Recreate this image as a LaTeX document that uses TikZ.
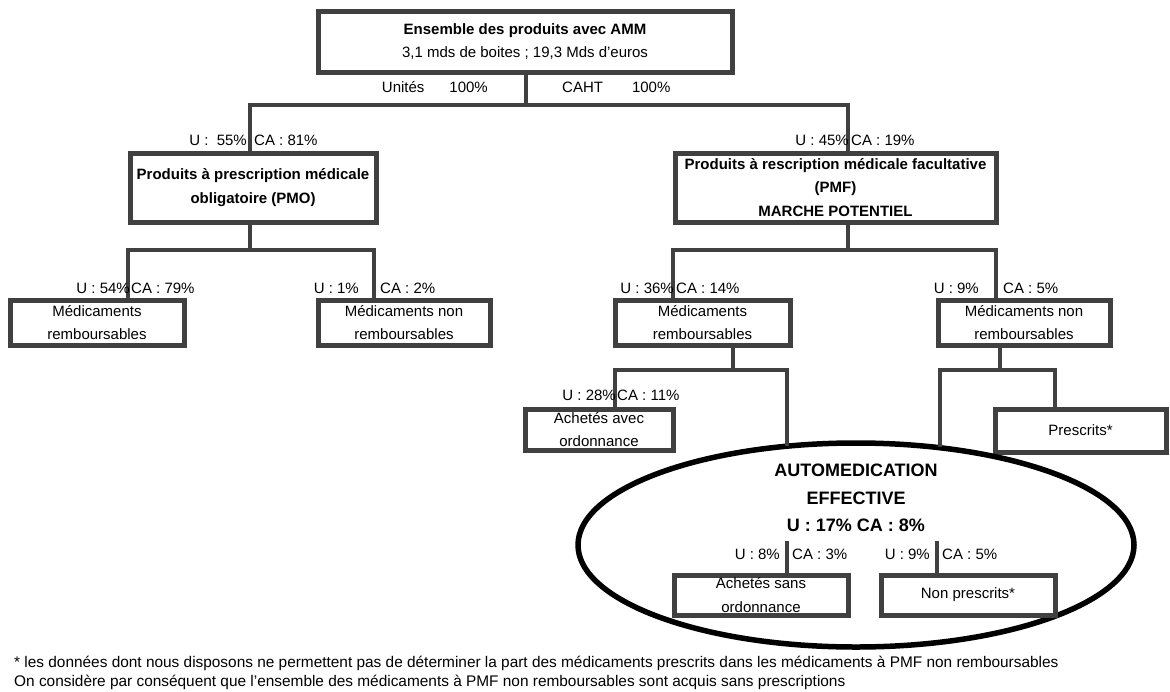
\documentclass[tikz,border=0pt]{standalone}
\usepackage{fontspec}
\setmainfont{Liberation Sans}
\usetikzlibrary{calc,shapes.geometric}
\definecolor{boxgrey}{HTML}{404040}

\begin{document}
\begin{tikzpicture}[x=1pt,y=-1pt,
  font=\fontsize{15}{23.5}\selectfont,
  box/.style={draw=boxgrey,line width=5pt,align=center,inner sep=0pt},
  link/.style={draw=boxgrey,line width=3.5pt},
  pct/.style={inner sep=0pt}]
\useasboundingbox (0,0) rectangle (1170,691);

% Draw the boxes
\node[box,minimum width=414pt,minimum height=61pt] (amm) at (525,41.5)
  {\textbf{Ensemble des produits avec AMM}\\3,1 mds de boites ; 19,3 Mds d'euros};
\node[box,minimum width=246pt,minimum height=69pt] (pmo) at (253,187.5)
  {\textbf{Produits à prescription médicale}\\\textbf{obligatoire (PMO)}};
\node[box,minimum width=321pt,minimum height=69pt] (pmf) at (835.5,187.5)
  {\textbf{Produits à rescription médicale facultative}\\\textbf{(PMF)}\\\textbf{MARCHE POTENTIEL}};
\node[box,minimum width=174pt,minimum height=45pt] (rembo) at (97,322.5) {Médicaments\\remboursables};
\node[box,minimum width=172pt,minimum height=45pt] (nrembo) at (404,322.5) {Médicaments non\\remboursables};
\node[box,minimum width=175pt,minimum height=45pt] (rembf) at (702.5,322.5) {Médicaments\\remboursables};
\node[box,minimum width=172pt,minimum height=45pt] (nrembf) at (1024,322.5) {Médicaments non\\remboursables};
\node[box,minimum width=148pt,minimum height=41pt] (avec) at (599,429.5) {Achetés avec\\ordonnance};
\node[box,minimum width=171pt,minimum height=43pt] (presc) at (1080.5,430.5) {Prescrits*};

% Draw the ellipse
\node[draw,ellipse,line width=5.5pt,minimum width=556pt,minimum height=204pt] (auto) at (856,545) {};
\node[align=center,font=\bfseries\fontsize{18}{27.5}\selectfont] (autotxt) at (856,498)
  {AUTOMEDICATION\\EFFECTIVE\\U : 17\% CA : 8\%};
\node[box,minimum width=174pt,minimum height=40pt] (sans) at (761,595) {Achetés sans\\ordonnance};
\node[box,minimum width=174pt,minimum height=40pt] (npresc) at (968,595) {Non prescrits*};

% Draw the connectors
\coordinate (b0) at (526,105);
\coordinate (b0l) at (250,105);
\coordinate (b0r) at (848,105);
\draw[link] (amm.south -| b0) -- (b0);
\draw[link] (pmo.north -| b0l) -- (b0l) -- (b0r) -- (pmf.north -| b0r);

\coordinate (b1l) at (128,250);
\coordinate (b1r) at (374,250);
\draw[link] (pmo.south -| 250,0) coordinate (b1) -- (b1 |- b1l);
\draw[link] (rembo.north -| b1l) -- (b1l) -- (b1r) -- (nrembo.north -| b1r);

\coordinate (b2l) at (673,250);
\coordinate (b2r) at (996,250);
\draw[link] (pmf.south -| b0r) -- (b0r |- b2l);
\draw[link] (rembf.north -| b2l) -- (b2l) -- (b2r) -- (nrembf.north -| b2r);

\coordinate (b3) at (733,370);
\coordinate (b3l) at (615,370);
\coordinate (b3r) at (787,370);
\draw[link] (rembf.south -| b3) -- (b3);
\draw[link] (avec.north -| b3l) -- (b3l) -- (b3r) -- ($(b3r |- auto.north)+(0,6)$);

\coordinate (b4) at (1000,370);
\coordinate (b4l) at (940,370);
\coordinate (b4r) at (1055,370);
\draw[link] (nrembf.south -| b4) -- (b4);
\draw[link] ($(b4l |- auto.north)+(0,7)$) -- (b4l) -- (b4r) -- (presc.north -| b4r);

\coordinate (s1) at (787,541);
\coordinate (s2) at (937,541);
\draw[link] (s1) -- (s1 |- sans.north);
\draw[link] (s2) -- (s2 |- npresc.north);

% Percentages
\node[pct,anchor=east] (tu) at (488,87) {Unités\hspace{25pt}100\%};
\node[pct,anchor=west] (tc) at (562,87) {CAHT\hspace{29pt}100\%};
\node[pct,anchor=east] (u1) at (247,140) {U :~~55\%};
\node[pct,anchor=west] (c1) at (254,140) {CA : 81\%};
\node[pct,anchor=east] (u2) at (849,140) {U : 45\%};
\node[pct,anchor=west] (c2) at (851,140) {CA : 19\%};
\node[pct,anchor=east] (u3) at (130,288) {U : 54\%};
\node[pct,anchor=west] (c3) at (131,288) {CA : 79\%};
\node[pct,anchor=east] (u4) at (359,288) {U : 1\%};
\node[pct,anchor=west] (c4) at (380,288) {CA : 2\%};
\node[pct,anchor=east] (u5) at (674,288) {U : 36\%};
\node[pct,anchor=west] (c5) at (676,288) {CA : 14\%};
\node[pct,anchor=east] (u6) at (979,288) {U : 9\%};
\node[pct,anchor=west] (c6) at (1003,288) {CA : 5\%};
\node[pct,anchor=east] (u7) at (616,395) {U : 28\%};
\node[pct,anchor=west] (c7) at (617,395) {CA : 11\%};
\node[pct,anchor=east] (u8) at (780,554) {U : 8\%};
\node[pct,anchor=west] (c8) at (792,554) {CA : 3\%};
\node[pct,anchor=east] (u9) at (930,554) {U : 9\%};
\node[pct,anchor=west] (c9) at (942,554) {CA : 5\%};

% Footnote
\node[pct,anchor=west,font=\fontsize{15.4}{19}\selectfont] (note1) at (14,663) {* les données dont nous disposons ne permettent pas de déterminer la part des médicaments prescrits dans les médicaments à PMF non remboursables};
\node[pct,anchor=west,font=\fontsize{15.4}{19}\selectfont] (note2) at (14,682) {On considère par conséquent que l'ensemble des médicaments à PMF non remboursables sont acquis sans prescriptions};
\end{tikzpicture}
\end{document}
